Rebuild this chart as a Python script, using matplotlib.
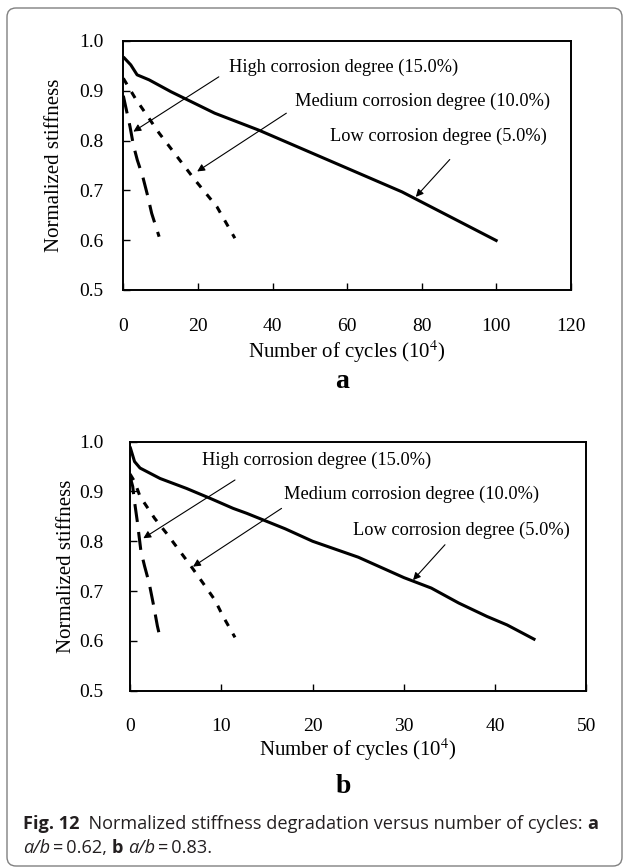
import matplotlib
matplotlib.use("Agg")
import matplotlib.pyplot as plt
from matplotlib.patches import FancyBboxPatch

plt.rcParams["font.family"] = "Liberation Serif"
plt.rcParams["mathtext.fontset"] = "stix"

# panel a  (a/b = 0.62)
A_LOW_X = [0, 2, 3.7, 6.9, 12.8, 24.5, 36.3, 74.7, 100.3]
A_LOW_Y = [0.968, 0.952, 0.932, 0.922, 0.898, 0.855, 0.821, 0.697, 0.598]
A_MED_X = [0, 3.2, 9.6, 19.2, 25.1, 29.9]
A_MED_Y = [0.925, 0.885, 0.815, 0.721, 0.667, 0.604]
A_HIGH_X = [0, 1.8, 2.7, 3.75, 5.2, 6.5, 7.6, 9.6]
A_HIGH_Y = [0.89, 0.828, 0.791, 0.761, 0.728, 0.69, 0.654, 0.607]

# panel b  (a/b = 0.83)
B_LOW_X = [0, 0.5, 1.1, 3.3, 6.2, 8.8, 11.3, 12.8, 17, 20, 25, 30, 33, 36, 39.1, 41.3, 44.4]
B_LOW_Y = [0.99, 0.96, 0.947, 0.926, 0.906, 0.886, 0.866, 0.856, 0.825, 0.800,
           0.768, 0.727, 0.706, 0.676, 0.649, 0.632, 0.602]
B_MED_X = [0, 0.5, 1.1, 2.7, 4.0, 6.6, 8.0, 9.3, 10.2, 11.5]
B_MED_Y = [0.935, 0.92, 0.89, 0.846, 0.816, 0.752, 0.716, 0.682, 0.649, 0.607]
B_HIGH_X = [0, 0.3, 0.45, 0.8, 1.2, 1.6, 2.1, 2.6, 3.0, 3.4]
B_HIGH_Y = [0.93, 0.91, 0.886, 0.84, 0.78, 0.75, 0.716, 0.67, 0.63, 0.598]

A_XTICKS = [0, 20, 40, 60, 80, 100, 120]
B_XTICKS = [0, 10, 20, 30, 40, 50]
YTICKS = [0.5, 0.6, 0.7, 0.8, 0.9, 1.0]

LABELS = ["High corrosion degree (15.0%)",
          "Medium corrosion degree (10.0%)",
          "Low corrosion degree (5.0%)"]

LW = 2.2
MED_DASH = (2.3, 2.9)
HIGH_DASH = (5.9, 3.3)

fig = plt.figure(figsize=(6.24, 8.68), dpi=100)


def draw_panel(rect, low, med, high, xticks, notes, tag, ypad, ylab_x, tag_pos):
    ax = fig.add_axes(rect)
    ax.plot(low[0], low[1], color="black", lw=LW, solid_capstyle="butt")
    ax.plot(med[0], med[1], color="black", lw=LW, dashes=MED_DASH)
    ax.plot(high[0], high[1], color="black", lw=LW, dashes=HIGH_DASH)

    ax.set_xlim(xticks[0], xticks[-1])
    ax.set_ylim(0.5, 1.0)
    ax.set_xticks(xticks)
    ax.set_yticks(YTICKS)
    ax.set_yticklabels([f"{v:.1f}" for v in YTICKS])
    ax.tick_params(axis="x", direction="in", length=5, width=1, pad=20, labelsize=14)
    ax.tick_params(axis="y", direction="in", length=5, width=1, pad=ypad, labelsize=14)
    for sp in ax.spines.values():
        sp.set_linewidth(1.4)

    ax.set_ylabel("Normalized stiffness", fontsize=15)
    ax.yaxis.set_label_coords(ylab_x, 0.5)
    ax.text(0.5, tag_pos[0], "Number of cycles (10$^{4}$)", transform=ax.transAxes,
            ha="center", va="baseline", fontsize=15)
    ax.text(tag_pos[1], tag_pos[2], tag, transform=ax.transAxes,
            ha="center", va="baseline", fontsize=20, fontweight="bold")

    for label, (tx, ty, ax0, ay0, hx, hy) in zip(LABELS, notes):
        ax.text(tx, ty, label, ha="left", va="center", fontsize=13.2)
        ax.annotate("", xy=(hx, hy), xytext=(ax0, ay0),
                    arrowprops=dict(arrowstyle="-|>", color="black", lw=0.8,
                                    mutation_scale=11, shrinkA=0, shrinkB=0))
    return ax


# text x, text y, arrow tail x, y, arrow head x, y
A_NOTES = [(28.3, 0.948, 25.6, 0.928, 2.7, 0.818),
           (45.9, 0.878, 43.7, 0.855, 19.8, 0.738),
           (55.4, 0.808, 87.5, 0.762, 78.4, 0.687)]
B_NOTES = [(7.9, 0.962, 11.5, 0.923, 1.46, 0.806),
           (16.9, 0.895, 16.6, 0.866, 6.9, 0.749),
           (24.4, 0.822, 34.5, 0.793, 31.0, 0.722)]

draw_panel([0.1976, 0.6659, 0.7175, 0.2869],
           (A_LOW_X, A_LOW_Y), (A_MED_X, A_MED_Y), (A_HIGH_X, A_HIGH_Y),
           A_XTICKS, A_NOTES, "a", 14, -0.133, (-0.272, 0.488, -0.394))
draw_panel([0.2083, 0.2043, 0.7316, 0.2869],
           (B_LOW_X, B_LOW_Y), (B_MED_X, B_MED_Y), (B_HIGH_X, B_HIGH_Y),
           B_XTICKS, B_NOTES, "b", 19, -0.119, (-0.262, 0.467, -0.411))

# frame round the whole figure
frame = FancyBboxPatch((0.07, 0.02), 6.15, 8.58, boxstyle="round,pad=0,rounding_size=0.09",
                       transform=fig.dpi_scale_trans, fill=False, edgecolor="#808080", lw=1.0)
fig.add_artist(frame)

# caption, laid out piece by piece on a shared baseline
CAP_FONT = ["Open Sans", "DejaVu Sans"]
CAP_SIZE = 13.1
CAP_COLOR = "#231f20"
renderer = fig.canvas.get_renderer()


def caption_line(x_px, y_px, pieces):
    x = x_px
    for text, weight, style in pieces:
        t = fig.text(x / 624, 1 - y_px / 868, text, fontsize=CAP_SIZE, family=CAP_FONT,
                     fontweight=weight, fontstyle=style, color=CAP_COLOR,
                     va="baseline", ha="left")
        x += t.get_window_extent(renderer).width


caption_line(22.7, 829,
             [("Fig. 12", "bold", "normal"),
              ("  Normalized stiffness degradation versus number of cycles: ", "normal", "normal"),
              ("a", "bold", "normal")])
caption_line(22.7, 853,
             [("a/b", "normal", "italic"),
              ("\u2009=\u20090.62, ", "normal", "normal"),
              ("b", "bold", "normal"),
              (" ", "normal", "normal"),
              ("a/b", "normal", "italic"),
              ("\u2009=\u20090.83.", "normal", "normal")])

fig.savefig("out.png", dpi=100)
